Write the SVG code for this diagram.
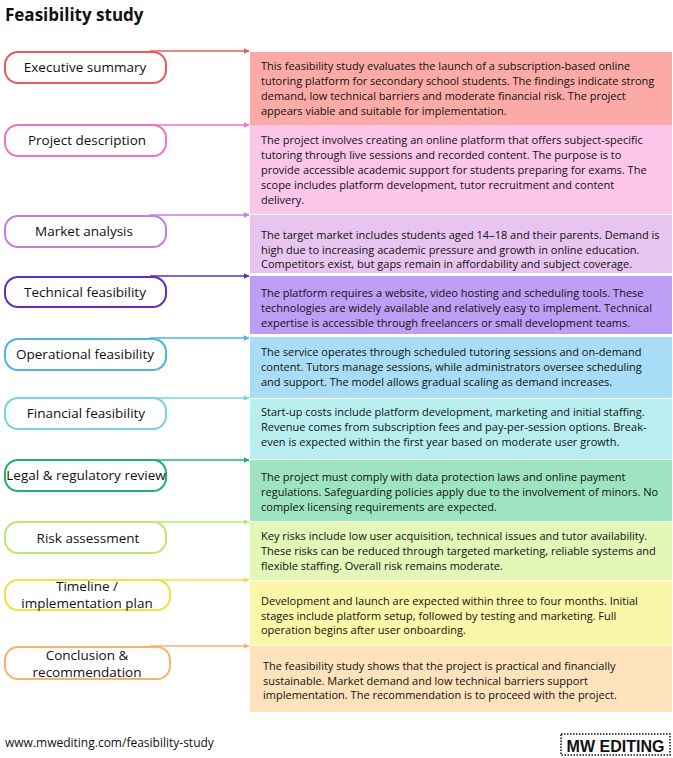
<svg xmlns="http://www.w3.org/2000/svg" width="673" height="758" viewBox="0 0 673 758">
<style>
text{font-family:"Open Sans","Liberation Sans",sans-serif;fill:#111}
.b{font-size:11px}
.p{font-size:13.5px;text-anchor:middle}
.pill{fill:#fff;stroke-width:2}
</style>
<defs>
<marker id="ah" viewBox="0 0 10 10" refX="9" refY="5" markerWidth="6" markerHeight="6" orient="auto" markerUnits="userSpaceOnUse"><path d="M0,0 L10,5 L0,10 z" fill="context-stroke"/></marker>
</defs>
<rect width="673" height="758" fill="#fff"/>
<text x="5" y="21" style="font-size:17px;font-weight:bold">Feasibility study</text>
<g id="connectors" fill="none" stroke-width="1.3">
<path d="M150,51 H249" stroke="#e85b5b" marker-end="url(#ah)"/>
<path d="M130,125 H249" stroke="#ef74c0" marker-end="url(#ah)"/>
<path d="M150,215 H249" stroke="#c27de0" marker-end="url(#ah)"/>
<path d="M150,276 H249" stroke="#5f2fc4" marker-end="url(#ah)"/>
<path d="M150,338 H249" stroke="#4cb6e0" marker-end="url(#ah)"/>
<path d="M150,398 H249" stroke="#74d6dc" marker-end="url(#ah)"/>
<path d="M150,460 H249" stroke="#1fb36a" marker-end="url(#ah)"/>
<path d="M150,522 H249" stroke="#b8ea70" marker-end="url(#ah)"/>
<path d="M150,580 H249" stroke="#f0e040" marker-end="url(#ah)"/>
<path d="M150,646 H249" stroke="#f7b469" marker-end="url(#ah)"/>
</g>
<g id="n1"><rect x="250" y="52" width="422" height="73" fill="#fbaaa8"/><rect class="pill" x="5" y="52" width="161" height="31" rx="13" stroke="#e85b5b"/><text class="p" x="85" y="72">Executive summary</text>
<text class="b" x="261" y="70">This feasibility study evaluates the launch of a subscription-based online</text><text class="b" x="261" y="85">tutoring platform for secondary school students. The findings indicate strong</text><text class="b" x="261" y="100">demand, low technical barriers and moderate financial risk. The project</text><text class="b" x="261" y="115">appears viable and suitable for implementation.</text></g>
<g id="n2"><rect x="250" y="125" width="422" height="89" fill="#fbc6ea"/><rect class="pill" x="5" y="125" width="161" height="31" rx="13" stroke="#ef74c0"/><text class="p" x="87" y="145">Project description</text>
<text class="b" x="261" y="144">The project involves creating an online platform that offers subject-specific</text><text class="b" x="261" y="159">tutoring through live sessions and recorded content. The purpose is to</text><text class="b" x="261" y="174">provide accessible academic support for students preparing for exams. The</text><text class="b" x="261" y="189">scope includes platform development, tutor recruitment and content</text><text class="b" x="261" y="204">delivery.</text></g>
<g id="n3"><rect x="250" y="215" width="422" height="58" fill="#e8c4f0"/><rect class="pill" x="5" y="216" width="161" height="31" rx="13" stroke="#c27de0"/><text class="p" x="84" y="236">Market analysis</text>
<text class="b" x="261" y="239">The target market includes students aged 14–18 and their parents. Demand is</text><text class="b" x="261" y="254">high due to increasing academic pressure and growth in online education.</text><text class="b" x="261" y="268">Competitors exist, but gaps remain in affordability and subject coverage.</text></g>
<g id="n4"><rect x="250" y="276" width="422" height="58" fill="#bf9ef5"/><rect class="pill" x="5" y="277" width="161" height="30" rx="13" stroke="#5f2fc4"/><text class="p" x="85" y="297">Technical feasibility</text>
<text class="b" x="261" y="297">The platform requires a website, video hosting and scheduling tools. These</text><text class="b" x="261" y="312">technologies are widely available and relatively easy to implement. Technical</text><text class="b" x="261" y="327">expertise is accessible through freelancers or small development teams.</text></g>
<g id="n5"><rect x="250" y="337" width="422" height="61" fill="#a9dcf7"/><rect class="pill" x="5" y="339" width="161" height="31" rx="13" stroke="#4cb6e0"/><text class="p" x="85" y="359">Operational feasibility</text>
<text class="b" x="261" y="356">The service operates through scheduled tutoring sessions and on-demand</text><text class="b" x="261" y="371">content. Tutors manage sessions, while administrators oversee scheduling</text><text class="b" x="261" y="386">and support. The model allows gradual scaling as demand increases.</text></g>
<g id="n6"><rect x="250" y="399" width="422" height="60" fill="#b8eef0"/><rect class="pill" x="5" y="398" width="161" height="31" rx="13" stroke="#74d6dc"/><text class="p" x="86" y="418">Financial feasibility</text>
<text class="b" x="261" y="416">Start-up costs include platform development, marketing and initial staffing.</text><text class="b" x="261" y="431">Revenue comes from subscription fees and pay-per-session options. Break-</text><text class="b" x="261" y="446">even is expected within the first year based on moderate user growth.</text></g>
<g id="n7"><rect x="250" y="460" width="422" height="61" fill="#9fe4c0"/><rect class="pill" x="5" y="460" width="161" height="31" rx="13" stroke="#1fb36a"/><text class="p" x="86" y="480">Legal &amp; regulatory review</text>
<text class="b" x="261" y="481">The project must comply with data protection laws and online payment</text><text class="b" x="261" y="496">regulations. Safeguarding policies apply due to the involvement of minors. No</text><text class="b" x="261" y="511">complex licensing requirements are expected.</text></g>
<g id="n8"><rect x="250" y="522" width="422" height="58" fill="#e2f7b8"/><rect class="pill" x="5" y="522" width="161" height="31" rx="13" stroke="#b8ea70"/><text class="p" x="88" y="543">Risk assessment</text>
<text class="b" x="261" y="540">Key risks include low user acquisition, technical issues and tutor availability.</text><text class="b" x="261" y="555">These risks can be reduced through targeted marketing, reliable systems and</text><text class="b" x="261" y="570">flexible staffing. Overall risk remains moderate.</text></g>
<g id="n9"><rect x="250" y="581" width="422" height="64" fill="#fbf7a8"/><rect class="pill" x="5" y="580" width="165" height="30" rx="13" stroke="#f0e040"/><text class="p" x="87" y="591">Timeline /</text><text class="p" x="87" y="608">implementation plan</text>
<text class="b" x="261" y="605">Development and launch are expected within three to four months. Initial</text><text class="b" x="261" y="620">stages include platform setup, followed by testing and marketing. Full</text><text class="b" x="261" y="634">operation begins after user onboarding.</text></g>
<g id="n10"><rect x="250" y="646" width="422" height="66" fill="#fde2bc"/><rect class="pill" x="5" y="647" width="165" height="32" rx="13" stroke="#f7b469"/><text class="p" x="87" y="660">Conclusion &amp;</text><text class="p" x="87" y="677">recommendation</text>
<text class="b" x="263" y="670">The feasibility study shows that the project is practical and financially</text><text class="b" x="263" y="685">sustainable. Market demand and low technical barriers support</text><text class="b" x="263" y="699">implementation. The recommendation is to proceed with the project.</text></g>
<text x="5" y="747" style="font-size:12px">www.mwediting.com/feasibility-study</text>
<g id="logo"><rect x="561" y="734" width="109" height="21" fill="none" stroke="#111" stroke-width="1.5" stroke-dasharray="1.5,1.5"/><text x="615.5" y="751.5" style="font-size:16px;font-weight:bold;text-anchor:middle;font-family:'Liberation Sans',sans-serif">MW EDITING</text></g>
</svg>
